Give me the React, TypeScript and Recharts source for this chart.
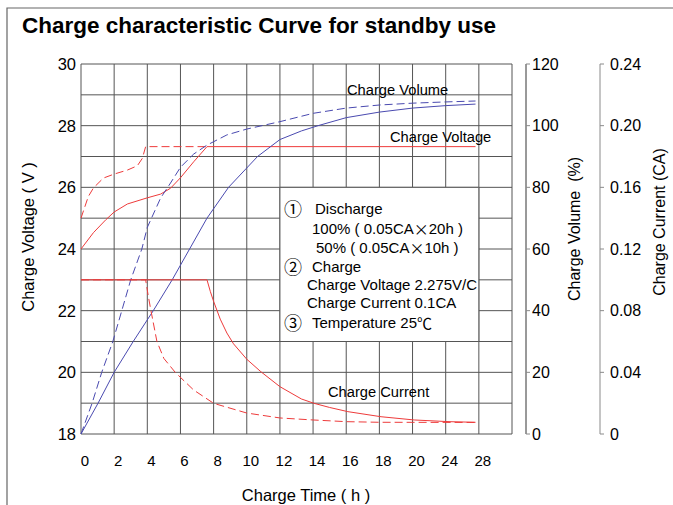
import React from 'react';
import {
  ComposedChart,
  Line,
  XAxis,
  YAxis,
  CartesianGrid,
  ReferenceArea,
} from 'recharts';

const FONT = '"Liberation Sans", Arial, Helvetica, sans-serif';
const CJK = '"Noto Sans CJK SC", "DejaVu Sans", sans-serif';
const RED = '#ee3b3b';
const BLUE = '#4a4ab0';
const GRID = '#555555';
const AXIS_GRAY = '#8a8a8a';

// 图表区域（像素）
const PLOT_LEFT = 81;
const GRID_RIGHT = 512;
const AXIS_RIGHT = 526;
const PLOT_TOP = 64;
const PLOT_BOTTOM = 434;

// 右侧两根轴：r1 = 充电量，r2 = 充电电流（靠近图区的排在前面）
const VOL_AXIS = 'r1';
const CUR_AXIS = 'r2';

// x 轴：网格位置与其下方印刷的标签
const timeTicks = [0, 2, 4, 6, 8, 10, 12, 14, 16, 18, 20, 22, 24, 26];
const timeLabels = ['0', '2', '4', '6', '8', '10', '12', '14', '16', '18', '20', '24', '28', ''];
const voltageTicks = [18, 19, 20, 21, 22, 23, 24, 25, 26, 27, 28, 29, 30];
const volumeTicks = [0, 20, 40, 60, 80, 100, 120];
const currentTicks = [0, 0.04, 0.08, 0.12, 0.16, 0.2, 0.24];

// 充电电压 (V)
const voltageFull = [
  { t: 0, v: 24 }, { t: 0.75, v: 24.53 }, { t: 1.5, v: 24.95 }, { t: 2, v: 25.2 },
  { t: 2.8, v: 25.46 }, { t: 4, v: 25.66 }, { t: 4.8, v: 25.78 }, { t: 5.4, v: 25.97 },
  { t: 6, v: 26.31 }, { t: 6.8, v: 26.83 }, { t: 7.6, v: 27.32 }, { t: 23.8, v: 27.32 },
];
const voltageHalf = [
  { t: 0, v: 25 }, { t: 0.44, v: 25.7 }, { t: 0.75, v: 25.98 }, { t: 1.35, v: 26.3 },
  { t: 2, v: 26.43 }, { t: 2.8, v: 26.56 }, { t: 3.4, v: 26.7 }, { t: 3.7, v: 26.94 },
  { t: 3.9, v: 27.32 }, { t: 7.6, v: 27.32 },
];

// 充电量 (%)
const volumeFull = [
  { t: 0, v: 0 }, { t: 1.03, v: 10 }, { t: 2, v: 20 }, { t: 3.15, v: 30 }, { t: 4.36, v: 40 },
  { t: 5.5, v: 50 }, { t: 6.55, v: 60 }, { t: 7.6, v: 70 }, { t: 8.9, v: 80 }, { t: 10.65, v: 90 },
  { t: 12, v: 95.5 }, { t: 13.3, v: 98.3 }, { t: 14.3, v: 100 }, { t: 16, v: 102.6 },
  { t: 18, v: 104.4 }, { t: 20, v: 105.7 }, { t: 22, v: 106.5 }, { t: 23.8, v: 107 },
];
const volumeHalf = [
  { t: 0, v: 0 }, { t: 0.67, v: 10 }, { t: 1.25, v: 20 }, { t: 1.92, v: 30 }, { t: 2.46, v: 40 },
  { t: 3, v: 50 }, { t: 3.67, v: 60 }, { t: 4, v: 67 }, { t: 4.8, v: 76.5 }, { t: 5.4, v: 81.4 },
  { t: 6, v: 86.5 }, { t: 6.8, v: 90.8 }, { t: 7.6, v: 93.7 }, { t: 8.8, v: 97 }, { t: 10, v: 98.9 },
  { t: 12, v: 101.3 }, { t: 14, v: 104 }, { t: 16, v: 105.7 }, { t: 18, v: 106.7 },
  { t: 20, v: 107.3 }, { t: 22, v: 107.7 }, { t: 23.8, v: 108 },
];

// 充电电流 (CA)
const currentFull = [
  { t: 0, v: 0.1 }, { t: 7.6, v: 0.1 }, { t: 7.8, v: 0.0925 }, { t: 8, v: 0.086 },
  { t: 8.4, v: 0.0745 }, { t: 8.8, v: 0.0655 }, { t: 9.2, v: 0.0585 }, { t: 10, v: 0.0485 },
  { t: 10.85, v: 0.0404 }, { t: 12, v: 0.0307 }, { t: 13.3, v: 0.0227 }, { t: 14.06, v: 0.0199 },
  { t: 15, v: 0.0172 }, { t: 16.1, v: 0.0145 }, { t: 18.1, v: 0.0112 }, { t: 20.1, v: 0.0091 },
  { t: 22.2, v: 0.008 }, { t: 23.8, v: 0.0076 },
];
const currentHalf = [
  { t: 0, v: 0.1 }, { t: 3.9, v: 0.1 }, { t: 4.05, v: 0.09 }, { t: 4.22, v: 0.08 },
  { t: 4.58, v: 0.06 }, { t: 5, v: 0.049 }, { t: 5.7, v: 0.0398 }, { t: 6.8, v: 0.0285 },
  { t: 8, v: 0.0199 }, { t: 10, v: 0.0136 }, { t: 12, v: 0.0104 }, { t: 14, v: 0.0091 },
  { t: 16, v: 0.008 }, { t: 18, v: 0.0076 }, { t: 23.8, v: 0.0075 },
];

const timeMax = 26 * (AXIS_RIGHT - PLOT_LEFT) / (GRID_RIGHT - PLOT_LEFT);

const tickStyle = { fill: '#000', fontSize: 16, fontFamily: FONT };

const App: React.FC = () => {
  return (
    <div style={{ position: 'absolute', left: 0, top: 0, width: 673, height: 505, background: '#fff' }}>
      <ComposedChart
        width={673}
        height={505}
        margin={{ top: PLOT_TOP, right: 13, bottom: 505 - PLOT_BOTTOM - 30, left: 40 }}
      >
        <CartesianGrid
          xAxisId="t"
          yAxisId="v"
          stroke={GRID}
          width={GRID_RIGHT - PLOT_LEFT}
        />
        <XAxis
          xAxisId="t"
          type="number"
          dataKey="t"
          domain={[0, timeMax]}
          ticks={timeTicks}
          interval={0}
          height={30}
          axisLine={false}
          tickLine={false}
          tickSize={0}
          tickMargin={21}
          tick={{ ...tickStyle, fontSize: 15, dx: 4 }}
          tickFormatter={(_v: number, i: number) => timeLabels[i]}
        />
        <YAxis
          yAxisId="v"
          type="number"
          domain={[18, 30]}
          ticks={voltageTicks}
          interval={0}
          width={41}
          axisLine={false}
          tickLine={false}
          tickSize={0}
          tickMargin={5}
          tick={{ ...tickStyle, fontSize: 16.5 }}
          tickFormatter={(v: number) => (v % 2 === 0 ? String(v) : '')}
        />
        <YAxis
          yAxisId={VOL_AXIS}
          orientation="right"
          type="number"
          domain={[0, 120]}
          ticks={volumeTicks}
          interval={0}
          width={74}
          axisLine={{ stroke: AXIS_GRAY }}
          tickLine={{ stroke: AXIS_GRAY }}
          tickSize={4}
          tickMargin={2}
          tick={tickStyle}
        />
        <YAxis
          yAxisId={CUR_AXIS}
          orientation="right"
          type="number"
          domain={[0, 0.24]}
          ticks={currentTicks}
          interval={0}
          width={60}
          axisLine={{ stroke: AXIS_GRAY }}
          tickLine={{ stroke: AXIS_GRAY }}
          tickSize={4}
          tickMargin={6}
          tick={tickStyle}
          tickFormatter={(v: number) => (v === 0 ? '0' : v.toFixed(2))}
        />
        <ReferenceArea
          xAxisId="t"
          yAxisId="v"
          x1={12}
          x2={24}
          y1={21}
          y2={26}
          fill="#fff"
          fillOpacity={1}
          stroke={GRID}
        />
        <Line xAxisId="t" yAxisId="v" data={voltageFull} dataKey="v" type="linear" stroke={RED} strokeWidth={1} dot={false} activeDot={false} isAnimationActive={false} />
        <Line xAxisId="t" yAxisId="v" data={voltageHalf} dataKey="v" type="linear" stroke={RED} strokeWidth={1} strokeDasharray="8 4" dot={false} activeDot={false} isAnimationActive={false} />
        <Line xAxisId="t" yAxisId={VOL_AXIS} data={volumeFull} dataKey="v" type="linear" stroke={BLUE} strokeWidth={1} dot={false} activeDot={false} isAnimationActive={false} />
        <Line xAxisId="t" yAxisId={VOL_AXIS} data={volumeHalf} dataKey="v" type="linear" stroke={BLUE} strokeWidth={1} strokeDasharray="8 4" dot={false} activeDot={false} isAnimationActive={false} />
        <Line xAxisId="t" yAxisId={CUR_AXIS} data={currentFull} dataKey="v" type="linear" stroke={RED} strokeWidth={1} dot={false} activeDot={false} isAnimationActive={false} />
        <Line xAxisId="t" yAxisId={CUR_AXIS} data={currentHalf} dataKey="v" type="linear" stroke={RED} strokeWidth={1} strokeDasharray="8 4" dot={false} activeDot={false} isAnimationActive={false} />
      </ComposedChart>

      <svg
        width={673}
        height={505}
        style={{ position: 'absolute', left: 0, top: 0, pointerEvents: 'none' }}
        fontFamily={FONT}
      >
        <path d="M7 505 V8 H673" fill="none" stroke="#666" strokeWidth={1.2} />
        <text x={22} y={33} fontSize={22.5} fontWeight="bold">Charge characteristic Curve for standby use</text>

        <text transform="translate(28,237) rotate(-90)" textAnchor="middle" dominantBaseline="central" fontSize={16.5}>Charge Voltage ( V )</text>
        <text transform="translate(574,229) rotate(-90)" textAnchor="middle" dominantBaseline="central" fontSize={16}>{'Charge Volume\u00a0\u00a0(%)'}</text>
        <text transform="translate(659,222) rotate(-90)" textAnchor="middle" dominantBaseline="central" fontSize={16}>Charge Current (CA)</text>
        <text x={306} y={495} textAnchor="middle" dominantBaseline="central" fontSize={16.5}>Charge Time ( h )</text>

        <text x={347} y={90} dominantBaseline="central" fontSize={14.7}>Charge Volume</text>
        <text x={390} y={137} dominantBaseline="central" fontSize={14.7}>Charge Voltage</text>
        <text x={328} y={392} dominantBaseline="central" fontSize={14.7}>Charge Current</text>

        <g fontSize={15} dominantBaseline="central">
          <text x={284} y={208} fontFamily={CJK} fontSize={18}>①</text>
          <text x={315} y={208}>Discharge</text>
          <text x={312} y={228}>100% ( 0.05CA<tspan fontFamily={CJK}>×</tspan>20h )</text>
          <text x={316} y={247}>50% ( 0.05CA<tspan fontFamily={CJK}>×</tspan>10h )</text>
          <text x={284} y={266} fontFamily={CJK} fontSize={18}>②</text>
          <text x={312} y={266}>Charge</text>
          <text x={307} y={284}>Charge Voltage 2.275V/C</text>
          <text x={307} y={302}>Charge Current 0.1CA</text>
          <text x={284} y={322} fontFamily={CJK} fontSize={18}>③</text>
          <text x={312} y={322}>Temperature 25<tspan fontFamily={CJK}>℃</tspan></text>
        </g>
      </svg>
    </div>
  );
};

export default App;
